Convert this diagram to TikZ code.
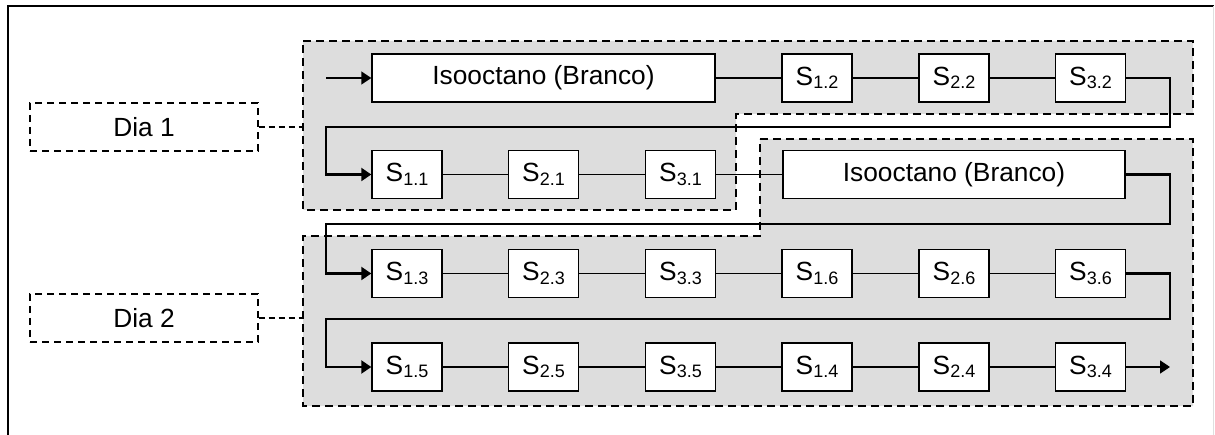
\documentclass[tikz,border=0pt]{standalone}
\usepackage{fontspec}
\setmainfont{Liberation Sans}
\usetikzlibrary{arrows.meta}
\definecolor{panel}{RGB}{221,221,221}
\newcommand\subidx[1]{\raisebox{-3.5pt}{\fontsize{18}{19}\selectfont #1}}
\begin{document}
\begin{tikzpicture}[x=1pt,y=-1pt,
  txt/.style={font=\fontsize{26.3}{30}\selectfont, inner sep=0pt},
  sbox/.style={txt, draw, fill=white, line width=1.4pt, minimum width=70pt, minimum height=48pt},
  blank/.style={txt, draw, fill=white, line width=1.4pt, minimum width=343pt, minimum height=48pt},
  daybox/.style={txt, draw, dash pattern=on 7pt off 5pt, line width=1.4pt, minimum width=228pt, minimum height=48pt},
  group/.style={fill=panel, draw, dash pattern=on 8pt off 5pt, line width=1.6pt},
  link/.style={line width=1.6pt},
  loop/.style={line width=2.2pt},
  tip/.style={-{Triangle[length=10pt,width=13pt]}},
  dlink/.style={line width=1.1pt, dash pattern=on 6pt off 4pt}]
\useasboundingbox (0,0) rectangle (1215,435);

% outer frame
\draw[line width=2pt] (7.5,435) -- (7.5,6) -- (1214,6);
\draw[gray!25, line width=1pt] (1213,6) -- (1213,435);

% day groups
\draw[group] (303,41) -- (1193,41) -- (1193,114) -- (736,114) -- (736,210) -- (303,210) -- cycle;
\draw[group] (760,139) -- (1193,139) -- (1193,406) -- (303,406) -- (303,236) -- (760,236) -- cycle;

% day labels
\node[daybox] (dia1) at (144,127) {Dia 1};
\node[daybox] (dia2) at (144,318) {Dia 2};
\coordinate (g1) at (303,127);
\coordinate (g2) at (303,318);
\draw[dlink] (dia1.east) -- (g1);
\draw[dlink] (dia2.east) -- (g2);

% row 1
\node[blank] (iso1) at (543.5,78) {Isooctano (Branco)};
\node[sbox] (s12) at (817,78) {S\subidx{1.2}};
\node[sbox] (s22) at (954,78) {S\subidx{2.2}};
\node[sbox] (s32) at (1090.5,78) {S\subidx{3.2}};
% row 2
\node[sbox] (s11) at (407,174.5) {S\subidx{1.1}};
\node[sbox] (s21) at (543.5,174.5) {S\subidx{2.1}};
\node[sbox] (s31) at (680.5,174.5) {S\subidx{3.1}};
\node[blank, minimum width=342pt] (iso2) at (954,174.5) {Isooctano (Branco)};
% row 3
\node[sbox] (s13) at (407,273.5) {S\subidx{1.3}};
\node[sbox] (s23) at (543.5,273.5) {S\subidx{2.3}};
\node[sbox] (s33) at (680.5,273.5) {S\subidx{3.3}};
\node[sbox] (s16) at (817,273.5) {S\subidx{1.6}};
\node[sbox] (s26) at (954,273.5) {S\subidx{2.6}};
\node[sbox] (s36) at (1090.5,273.5) {S\subidx{3.6}};
% row 4
\node[sbox] (s15) at (407,367) {S\subidx{1.5}};
\node[sbox] (s25) at (543.5,367) {S\subidx{2.5}};
\node[sbox] (s35) at (680.5,367) {S\subidx{3.5}};
\node[sbox] (s14) at (817,367) {S\subidx{1.4}};
\node[sbox] (s24) at (954,367) {S\subidx{2.4}};
\node[sbox] (s34) at (1090.5,367) {S\subidx{3.4}};

% turning points of the sequence
\coordinate (start) at (326,78);
\coordinate (r1) at (1170,127);
\coordinate (l1) at (326,127);
\coordinate (r2) at (1170,224);
\coordinate (l2) at (326,224);
\coordinate (r3) at (1170,319);
\coordinate (l3) at (326,319);
\coordinate (finish) at (1170,367);

% connectors
\draw[link, tip] (start) -- (iso1.west);
\draw[link] (iso1.east) -- (s12.west) (s12.east) -- (s22.west) (s22.east) -- (s32.west);
\draw[loop, tip] (s32.east) -| (r1) -- (l1) |- (s11.west);
\draw[link] (s11.east) -- (s21.west) (s21.east) -- (s31.west) (s31.east) -- (iso2.west);
\draw[loop, tip] (iso2.east) -| (r2) -- (l2) |- (s13.west);
\draw[link] (s13.east) -- (s23.west) (s23.east) -- (s33.west) (s33.east) -- (s16.west)
  (s16.east) -- (s26.west) (s26.east) -- (s36.west);
\draw[loop, tip] (s36.east) -| (r3) -- (l3) |- (s15.west);
\draw[link] (s15.east) -- (s25.west) (s25.east) -- (s35.west) (s35.east) -- (s14.west)
  (s14.east) -- (s24.west) (s24.east) -- (s34.west);
\draw[link, tip] (s34.east) -- (finish);
\end{tikzpicture}
\end{document}
